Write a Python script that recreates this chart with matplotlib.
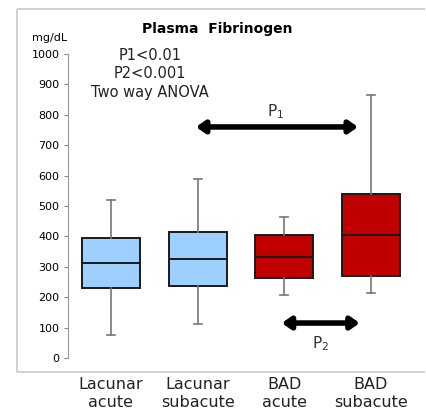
import numpy as np
import matplotlib.pyplot as plt
from matplotlib.lines import Line2D

groups = ['Lacunar\nacute', 'Lacunar\nsubacute', 'BAD\nacute', 'BAD\nsubacute']
whisker_low = [77, 112, 207, 214]
q1 = [230, 237, 263, 270]
median = [312, 325, 332, 405]
q3 = [395, 414, 405, 539]
whisker_high = [520, 589, 464, 865]
box_colors = ['#9DCFFF', '#9DCFFF', '#C00000', '#C00000']
yticks = [0, 100, 200, 300, 400, 500, 600, 700, 800, 900, 1000]

fig = plt.figure(figsize=(4.26, 4.12), dpi=100)
W, H = 426, 412

# light frame around the panel (open on the right, runs off the image)
left, top, bottom = 17 / W, 1 - 9 / H, 1 - 372 / H
for xs, ys in [([left, 0.998], [top, top]), ([left, left], [top, bottom]),
               ([left, 0.998], [bottom, bottom])]:
    fig.lines.append(Line2D(xs, ys, transform=fig.transFigure,
                            color='#c8c8c8', lw=1.2, solid_capstyle='butt'))

ax = fig.add_axes([68 / W, 1 - 358 / H, (410 - 68) / W, (358 - 54) / H])

positions = np.arange(1, len(groups) + 1)
stats = []
for i in range(len(groups)):
    stats.append({'whislo': whisker_low[i], 'q1': q1[i], 'med': median[i],
                  'q3': q3[i], 'whishi': whisker_high[i], 'fliers': []})

bp = ax.bxp(stats, positions=positions, widths=0.67, capwidths=0.09,
            patch_artist=True, showfliers=False,
            boxprops=dict(edgecolor='#1a1a1a', linewidth=1.4),
            medianprops=dict(color='#1a1a1a', linewidth=1.4),
            whiskerprops=dict(color='#777777', linewidth=1.2),
            capprops=dict(color='#777777', linewidth=1.2))
for patch, c in zip(bp['boxes'], box_colors):
    patch.set_facecolor(c)

ax.set_xlim(0.504, 4.45)
ax.set_ylim(0, 1000)
ax.set_yticks(yticks)
ax.tick_params(axis='y', labelsize=8, length=3, color='#888888', pad=3)
ax.set_xticks(positions)
ax.set_xticklabels(groups, fontsize=11.5, linespacing=1.25, color='#222222')
ax.tick_params(axis='x', length=0, pad=14)
for s in ['top', 'right', 'bottom']:
    ax.spines[s].set_visible(False)
ax.spines['left'].set_color('#999999')

# significance arrows
arrow = dict(arrowstyle='<|-|>,head_length=0.5,head_width=0.35', lw=4,
             color='black', shrinkA=0, shrinkB=0)
ax.annotate('', xy=(3.85, 760), xytext=(1.98, 760), arrowprops=arrow)
ax.annotate('', xy=(3.87, 115), xytext=(2.97, 115), arrowprops=arrow)
ax.text(2.90, 809, 'P$_1$', fontsize=11, ha='center', va='center', color='#333333')
ax.text(3.42, 46, 'P$_2$', fontsize=11, ha='center', va='center', color='#333333')

fig.text(217 / W, 1 - 29 / H, 'Plasma  Fibrinogen', fontsize=10,
         fontweight='bold', ha='center', va='center')
fig.text(50 / W, 1 - 38 / H, 'mg/dL', fontsize=8, ha='center', va='center')
fig.text(150 / W, 1 - 74 / H, 'P1<0.01\nP2<0.001\nTwo way ANOVA', fontsize=10.5,
         ha='center', va='center', linespacing=1.3, color='#222222')

fig.savefig('out.png', dpi=100)
